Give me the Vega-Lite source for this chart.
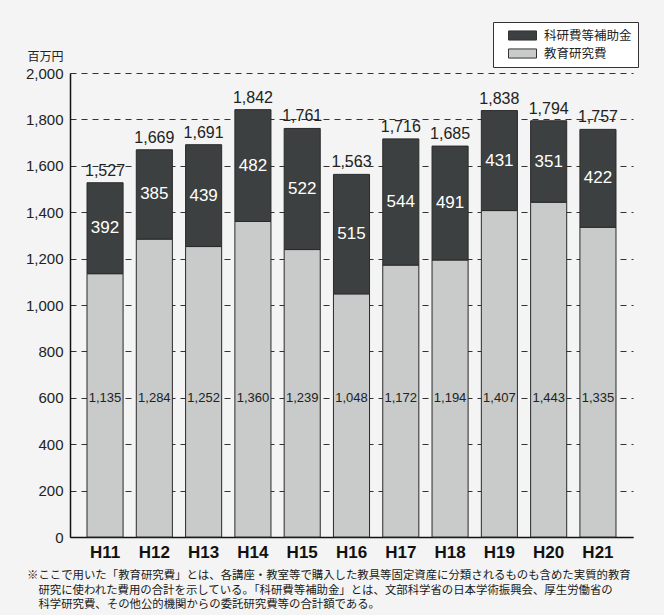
{
  "$schema": "https://vega.github.io/schema/vega-lite/v6.json",
  "width": 563,
  "height": 464,
  "autosize": {"type": "none"},
  "padding": {"left": 70, "top": 73, "right": 31, "bottom": 78},
  "background": "#f3f4f3",
  "config": {"view": {"stroke": null}, "font": "Liberation Sans"},
  "title": {
    "text": [
      "※ここで用いた「教育研究費」とは、各講座・教室等で購入した教具等固定資産に分類されるものも含めた実質的教育",
      "\u200b\u3000研究に使われた費用の合計を示している。「科研費等補助金」とは、文部科学省の日本学術振興会、厚生労働省の",
      "\u200b\u3000科学研究費、その他公的機関からの委託研究費等の合計額である。"
    ],
    "orient": "bottom",
    "anchor": "start",
    "frame": "group",
    "dx": -43,
    "offset": 10,
    "font": "Noto Sans CJK JP",
    "fontSize": 11.4,
    "fontWeight": "normal",
    "color": "#1a1a1a",
    "lineHeight": 14.6
  },
  "data": {
    "values": [
      {"year": "H11", "kind": "教育研究費", "amount": 1135},
      {"year": "H11", "kind": "科研費等補助金", "amount": 392},
      {"year": "H12", "kind": "教育研究費", "amount": 1284},
      {"year": "H12", "kind": "科研費等補助金", "amount": 385},
      {"year": "H13", "kind": "教育研究費", "amount": 1252},
      {"year": "H13", "kind": "科研費等補助金", "amount": 439},
      {"year": "H14", "kind": "教育研究費", "amount": 1360},
      {"year": "H14", "kind": "科研費等補助金", "amount": 482},
      {"year": "H15", "kind": "教育研究費", "amount": 1239},
      {"year": "H15", "kind": "科研費等補助金", "amount": 522},
      {"year": "H16", "kind": "教育研究費", "amount": 1048},
      {"year": "H16", "kind": "科研費等補助金", "amount": 515},
      {"year": "H17", "kind": "教育研究費", "amount": 1172},
      {"year": "H17", "kind": "科研費等補助金", "amount": 544},
      {"year": "H18", "kind": "教育研究費", "amount": 1194},
      {"year": "H18", "kind": "科研費等補助金", "amount": 491},
      {"year": "H19", "kind": "教育研究費", "amount": 1407},
      {"year": "H19", "kind": "科研費等補助金", "amount": 431},
      {"year": "H20", "kind": "教育研究費", "amount": 1443},
      {"year": "H20", "kind": "科研費等補助金", "amount": 351},
      {"year": "H21", "kind": "教育研究費", "amount": 1335},
      {"year": "H21", "kind": "科研費等補助金", "amount": 422}
    ]
  },
  "layer": [
    {
      "mark": {"type": "bar", "stroke": "#2a2a2a", "strokeWidth": 1},
      "encoding": {
        "x": {
          "field": "year", "type": "ordinal",
          "scale": {"paddingInner": 0.268, "paddingOuter": 0.345},
          "axis": {
            "title": null, "labelAngle": 0, "labelFontSize": 17, "labelFontWeight": "bold",
            "labelColor": "#111", "labelPadding": 7, "ticks": false,
            "domainColor": "#111", "domainWidth": 1.5
          }
        },
        "y": {
          "field": "amount", "type": "quantitative", "stack": "zero",
          "scale": {"domain": [0, 2000]},
          "axis": {
            "values": [0, 200, 400, 600, 800, 1000, 1200, 1400, 1600, 1800, 2000],
            "format": ",d",
            "title": "百万円", "titleAngle": 0, "titleAlign": "right", "titleX": -7, "titleY": -17,
            "titleBaseline": "middle", "titleFont": "Noto Sans CJK JP", "titleFontSize": 12,
            "titleFontWeight": "normal", "titleColor": "#222",
            "labelFontSize": 15, "labelColor": "#222", "labelPadding": 7, "ticks": false,
            "domainColor": "#111", "domainWidth": 1.5,
            "grid": true, "gridDash": [6, 5], "gridColor": "#333", "gridWidth": 1
          }
        },
        "color": {
          "field": "kind", "type": "nominal",
          "scale": {"domain": ["科研費等補助金", "教育研究費"], "range": ["#3d4040", "#c8cbca"]},
          "legend": {
            "title": null, "orient": "none", "legendX": 423, "legendY": -51, "direction": "vertical",
            "fillColor": "#ffffff", "strokeColor": "#333", "padding": 6,
            "labelFont": "Noto Sans CJK JP", "labelFontSize": 12.5, "labelColor": "#222",
            "symbolType": "M-2,-0.65H2V0.65H-2Z", "symbolSize": 196, "symbolOffset": 16, "labelOffset": 14,
            "symbolStrokeColor": "#333", "symbolStrokeWidth": 1, "symbolOpacity": 1, "rowPadding": 3
          }
        },
        "order": {"field": "kind", "type": "nominal", "sort": "ascending"}
      }
    },
    {
      "transform": [
        {"aggregate": [{"op": "sum", "field": "amount", "as": "total"}], "groupby": ["year"]}
      ],
      "mark": {"type": "text", "dy": -12, "fontSize": 16, "color": "#222"},
      "encoding": {
        "x": {"field": "year", "type": "ordinal"},
        "y": {"field": "total", "type": "quantitative"},
        "text": {"field": "total", "type": "quantitative", "format": ","}
      }
    },
    {
      "transform": [
        {"stack": "amount", "groupby": ["year"], "sort": [{"field": "kind", "order": "ascending"}], "as": ["y0", "y1"]},
        {"filter": "datum.kind === '科研費等補助金'"},
        {"fold": ["y0", "y1"], "as": ["edge", "v"]},
        {"aggregate": [{"op": "mean", "field": "v", "as": "mid"}], "groupby": ["year", "amount"]}
      ],
      "mark": {"type": "text", "fontSize": 17, "color": "#ffffff"},
      "encoding": {
        "x": {"field": "year", "type": "ordinal"},
        "y": {"field": "mid", "type": "quantitative"},
        "text": {"field": "amount", "type": "quantitative"}
      }
    },
    {
      "transform": [{"filter": "datum.kind === '教育研究費'"}],
      "mark": {"type": "text", "fontSize": 13, "color": "#222"},
      "encoding": {
        "x": {"field": "year", "type": "ordinal"},
        "y": {"datum": 600, "type": "quantitative"},
        "text": {"field": "amount", "type": "quantitative", "format": ","}
      }
    }
  ]
}
